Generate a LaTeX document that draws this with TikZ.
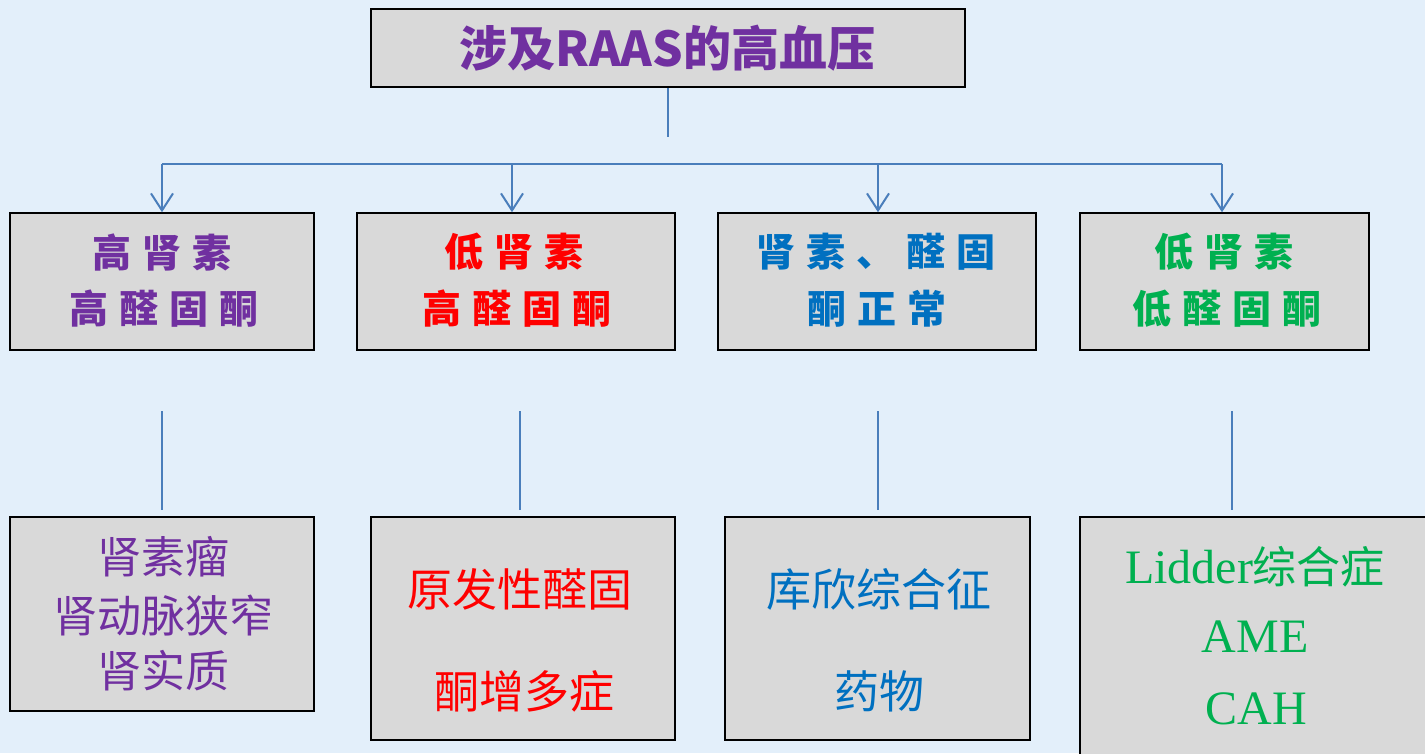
\documentclass[tikz,border=0pt]{standalone}
\usepackage{fontspec}
\newfontfamily\cjk{Noto Sans CJK SC}
\newfontfamily\serifL{Liberation Serif}
\usetikzlibrary{arrows.meta}
\definecolor{bg}{HTML}{E3EFFA}
\definecolor{boxfill}{HTML}{D9D9D9}
\definecolor{conncol}{HTML}{4A7EBB}
\definecolor{tpurple}{HTML}{7030A0}
\definecolor{tred}{HTML}{FF0000}
\definecolor{tblue}{HTML}{0070C0}
\definecolor{tgreen}{HTML}{00B050}
\newcommand\chgap{\hspace{11pt}}
\begin{document}
\begin{tikzpicture}[x=1pt,y=-1pt,
 box/.style={draw=black, line width=1.5pt, fill=boxfill, inner sep=0pt, rectangle},
 conn/.style={draw=conncol, line width=2pt},
 arr/.style={conn, -{Straight Barb[length=17pt,width=22pt]}},
 head/.style={font=\cjk\bfseries\fontsize{39}{42}\selectfont, inner sep=0pt},
 body/.style={font=\cjk\fontsize{45}{48}\selectfont, inner sep=0pt},
 lat/.style={font=\serifL\fontsize{48}{52}\selectfont, inner sep=0pt},
]
\fill[bg] (0,0) rectangle (1425,753);
\useasboundingbox (0,0) rectangle (1425,753);
\clip (0,0) rectangle (1425,753);

% title
\node[box, line width=2pt, minimum width=594pt, minimum height=78pt] (title) at (668,48) {};
\node[inner sep=0pt, text=tpurple, font=\cjk\bfseries\fontsize{48}{52}\selectfont] (titletext) at (667.5,48) {涉及RAAS的高血压};

% level 2 boxes
\node[box, minimum width=304pt, minimum height=137pt] (b1) at (162,281.5) {};
\node[box, minimum width=318pt, minimum height=137pt] (b2) at (516,281.5) {};
\node[box, minimum width=318pt, minimum height=137pt] (b3) at (877,281.5) {};
\node[box, minimum width=289pt, minimum height=137pt] (b4) at (1224.5,281.5) {};

\node[head, text=tpurple] (b1a) at (162,252) {高\chgap 肾\chgap 素};
\node[head, text=tpurple] (b1b) at (164,309) {高\chgap 醛\chgap 固\chgap 酮};
\node[head, text=tred] (b2a) at (514,252) {低\chgap 肾\chgap 素};
\node[head, text=tred] (b2b) at (517,309) {高\chgap 醛\chgap 固\chgap 酮};
\node[head, text=tblue] (b3a) at (876,252) {肾\chgap 素\chgap 、\chgap 醛\chgap 固};
\node[head, text=tblue] (b3b) at (877,309) {酮\chgap 正\chgap 常};
\node[head, text=tgreen] (b4a) at (1224,252) {低\chgap 肾\chgap 素};
\node[head, text=tgreen] (b4b) at (1227,309) {低\chgap 醛\chgap 固\chgap 酮};

% level 3 boxes
\node[box, minimum width=304pt, minimum height=194pt] (c1) at (162,614) {};
\node[box, minimum width=304pt, minimum height=223pt] (c2) at (523,628.5) {};
\node[box, minimum width=305pt, minimum height=223pt] (c3) at (877.5,628.5) {};
\node[box, minimum width=360pt, minimum height=253pt] (c4) at (1260,643.5) {};

\node[body, text=tpurple, font=\cjk\fontsize{44}{48}\selectfont] (c1a) at (163,557) {肾素瘤};
\node[body, text=tpurple, font=\cjk\fontsize{44}{48}\selectfont] (c1b) at (163,616) {肾动脉狭窄};
\node[body, text=tpurple, font=\cjk\fontsize{44}{48}\selectfont] (c1c) at (163,671) {肾实质};
\node[body, text=tred] (c2a) at (520,589) {原发性醛固};
\node[body, text=tred] (c2b) at (524,691) {酮增多症};
\node[body, text=tblue] (c3a) at (879,589) {库欣综合征};
\node[body, text=tblue] (c3b) at (879,691) {药物};
\node[inner sep=0pt, text=tgreen, font=\fontsize{44}{48}\selectfont] (c4a) at (1255,567) {{\serifL\fontsize{48}{52}\selectfont Lidder}{\cjk 综合症}};
\node[lat, text=tgreen] (c4b) at (1255,637) {AME};
\node[lat, text=tgreen] (c4c) at (1256,709) {CAH};

% connectors
\coordinate (t) at (668,137);
\coordinate (j1) at (162,164);
\coordinate (j2) at (512,164);
\coordinate (j3) at (878,164);
\coordinate (j4) at (1222,164);
\draw[conn] (title.south) -- (t);
\draw[conn] (j1) -- (j4);
\draw[arr] (j1) -- (j1 |- b1.north);
\draw[arr] (j2) -- (j2 |- b2.north);
\draw[arr] (j3) -- (j3 |- b3.north);
\draw[arr] (j4) -- (j4 |- b4.north);

\coordinate (u1) at (162,411); \coordinate (l1) at (162,510);
\coordinate (u2) at (520,411); \coordinate (l2) at (520,510);
\coordinate (u3) at (878,411); \coordinate (l3) at (878,510);
\coordinate (u4) at (1232,411); \coordinate (l4) at (1232,510);
\draw[conn, line width=1.5pt] (u1) -- (l1);
\draw[conn, line width=1.5pt] (u2) -- (l2);
\draw[conn, line width=1.5pt] (u3) -- (l3);
\draw[conn, line width=1.5pt] (u4) -- (l4);
\end{tikzpicture}
\end{document}
